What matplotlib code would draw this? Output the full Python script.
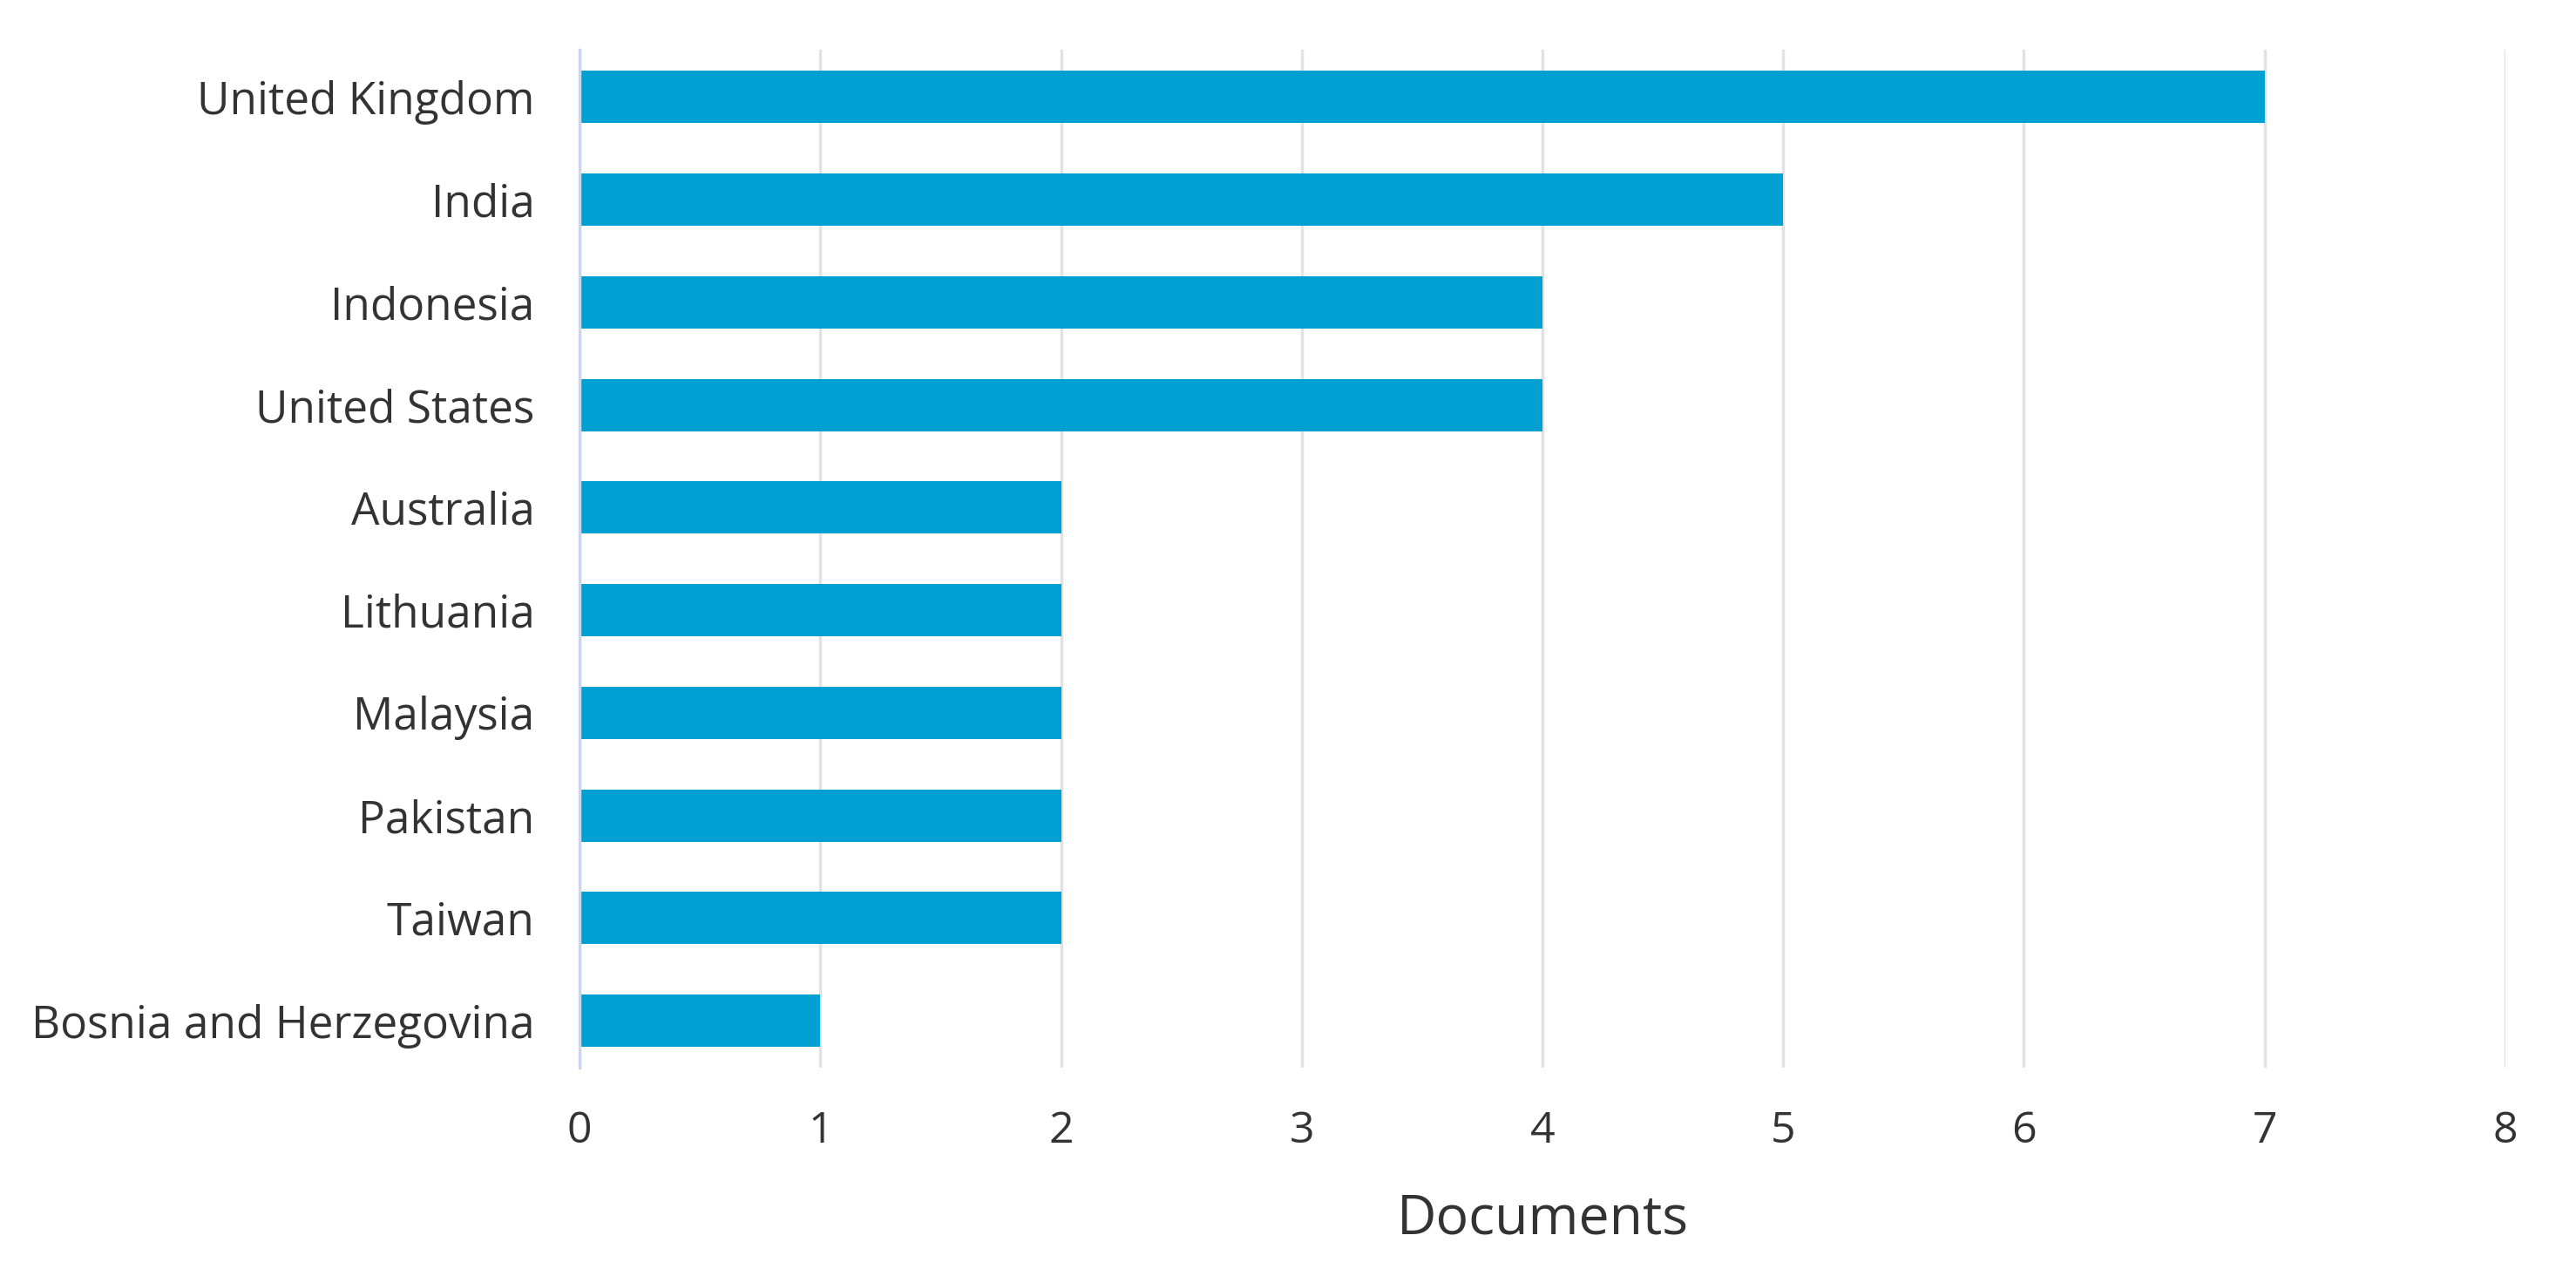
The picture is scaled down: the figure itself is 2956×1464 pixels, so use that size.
import matplotlib
matplotlib.use("Agg")
import matplotlib.pyplot as plt

countries = ["United Kingdom", "India", "Indonesia", "United States", "Australia",
             "Lithuania", "Malaysia", "Pakistan", "Taiwan", "Bosnia and Herzegovina"]
documents = [7, 5, 4, 4, 2, 2, 2, 2, 2, 1]
x_ticks = [0, 1, 2, 3, 4, 5, 6, 7, 8]

plt.rcParams['font.family'] = ['Open Sans', 'DejaVu Sans']
text_color = "#333333"

fig = plt.figure(figsize=(29.56, 14.64), dpi=100)
ax = fig.add_axes([0.225, 0.163, 0.7475, 0.798])

ypos = list(range(len(countries)))
ax.barh(ypos, documents, height=0.51, color="#00A0D2", zorder=3)
ax.set_yticks(ypos)
ax.set_yticklabels(countries, fontsize=37, color=text_color)
ax.set_ylim(len(countries) - 1 + 0.46, -0.46)
ax.set_xlim(0, 8)
ax.set_xticks(x_ticks)
ax.set_xticklabels([str(t) for t in x_ticks], fontsize=36, color=text_color)
ax.grid(axis="x", color="#e2e2e2", linewidth=2.5, zorder=0)
ax.set_axisbelow(True)
for s in ["top", "right", "bottom"]:
    ax.spines[s].set_visible(False)
ax.spines["left"].set_color("#ccd6eb")
ax.spines["left"].set_linewidth(2.5)
ax.spines["left"].set_zorder(4)
ax.tick_params(axis="y", length=0, pad=37)
ax.tick_params(axis="x", length=0, pad=35)
ax.set_xlabel("Documents", fontsize=45, color=text_color, labelpad=32)

fig.savefig("out.png", dpi=100, facecolor="white")
